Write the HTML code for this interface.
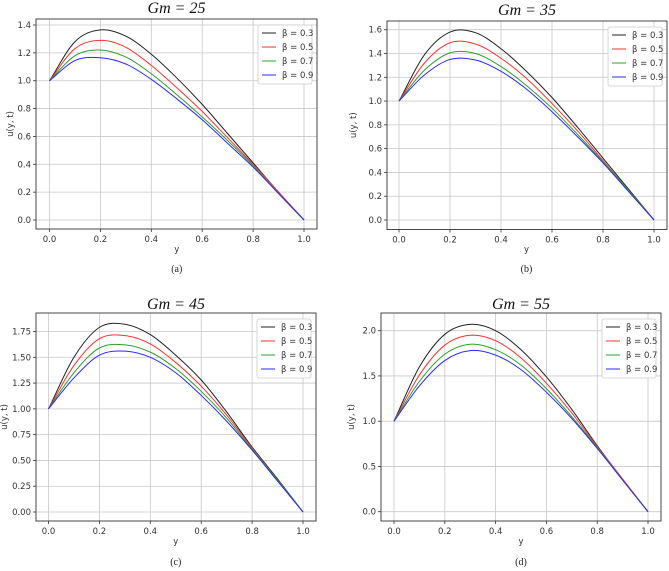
<!DOCTYPE html>
<html><head><meta charset="utf-8"><style>
html,body{margin:0;padding:0;background:#fff}
svg{display:block}
text{font-family:"DejaVu Sans","Liberation Sans",sans-serif}
</style></head>
<body>
<svg id="fig" width="669" height="571" viewBox="0 0 669 571" xmlns="http://www.w3.org/2000/svg"></svg>
<script>
const xs = [0,0.1,0.2,0.3,0.4,0.5,0.6,0.7,0.8,0.9,1];
const betaLabels = ["β = 0.3","β = 0.5","β = 0.7","β = 0.9"];
const seriesColors = ["#222","#ff3030","#2ca02c","#2a2aff"];
const xTicks = [0,0.2,0.4,0.6,0.8,1.0];
const xTickLabels = ["0.0","0.2","0.4","0.6","0.8","1.0"];
const titles = ["Gm = 25","Gm = 35","Gm = 45","Gm = 55"];
const captions = ["(a)","(b)","(c)","(d)"];
const yTicksA = [0,0.2,0.4,0.6,0.8,1.0,1.2,1.4];
const yTickLabelsA = ["0.0","0.2","0.4","0.6","0.8","1.0","1.2","1.4"];
const yTicksB = [0,0.2,0.4,0.6,0.8,1.0,1.2,1.4,1.6];
const yTickLabelsB = ["0.0","0.2","0.4","0.6","0.8","1.0","1.2","1.4","1.6"];
const yTicksC = [0,0.25,0.5,0.75,1.0,1.25,1.5,1.75];
const yTickLabelsC = ["0.00","0.25","0.50","0.75","1.00","1.25","1.50","1.75"];
const yTicksD = [0,0.5,1.0,1.5,2.0];
const yTickLabelsD = ["0.0","0.5","1.0","1.5","2.0"];
const dataA = [
 [1,1.28,1.365,1.32,1.19,1.02,0.83,0.62,0.41,0.20,0],
 [1,1.23,1.29,1.24,1.11,0.95,0.78,0.59,0.40,0.20,0],
 [1,1.18,1.22,1.17,1.05,0.90,0.74,0.57,0.39,0.19,0],
 [1,1.145,1.165,1.12,1.01,0.87,0.72,0.55,0.38,0.19,0]];
const dataB = [
 [1,1.39,1.58,1.575,1.44,1.25,1.03,0.78,0.52,0.26,0],
 [1,1.32,1.49,1.48,1.36,1.19,0.98,0.75,0.50,0.25,0],
 [1,1.26,1.405,1.40,1.29,1.13,0.94,0.72,0.49,0.25,0],
 [1,1.22,1.35,1.345,1.25,1.10,0.91,0.70,0.48,0.24,0]];
const dataC = [
 [1,1.50,1.79,1.82,1.72,1.52,1.28,0.97,0.63,0.32,0],
 [1,1.42,1.68,1.71,1.63,1.45,1.22,0.94,0.62,0.31,0],
 [1,1.35,1.59,1.62,1.55,1.39,1.17,0.91,0.61,0.31,0],
 [1,1.30,1.52,1.56,1.50,1.35,1.13,0.88,0.60,0.30,0]];
const dataD = [
 [1,1.60,1.96,2.07,2.00,1.79,1.49,1.13,0.73,0.36,0],
 [1,1.51,1.84,1.95,1.89,1.70,1.42,1.09,0.72,0.36,0],
 [1,1.44,1.74,1.85,1.79,1.62,1.36,1.05,0.71,0.35,0],
 [1,1.39,1.67,1.78,1.73,1.57,1.32,1.03,0.70,0.35,0]];

const NS="http://www.w3.org/2000/svg";
const fig=document.getElementById('fig');
function mk(tag,attrs,parent,txt){const e=document.createElementNS(NS,tag);for(const k in attrs)e.setAttribute(k,attrs[k]);if(txt!==undefined)e.textContent=txt;(parent||fig).appendChild(e);return e;}

const layouts=[
 {box:[36,19,317,229],x0:49.5,x1:304,y0p:220,yv:1.4,yvp:25,title:13,cap:272,ylab:13,xlab:252},
 {box:[387,21,667,229.5],x0:399,x1:654,y0p:220,yv:1.6,yvp:29.7,title:15,cap:272,ylab:356,xlab:252},
 {box:[36,313,316,521],x0:48.5,x1:303,y0p:512,yv:1.75,yvp:331.5,title:309,cap:565,ylab:7,xlab:544},
 {box:[381,313,661,521],x0:394,x1:648,y0p:511.7,yv:2.0,yvp:330.7,title:309,cap:565,ylab:354,xlab:544}];
const allTicks=[[yTicksA,yTickLabelsA],[yTicksB,yTickLabelsB],[yTicksC,yTickLabelsC],[yTicksD,yTickLabelsD]];
const allData=[dataA,dataB,dataC,dataD];

function pathFrom(pts){
  let d="M"+pts[0][0].toFixed(2)+","+pts[0][1].toFixed(2);
  for(let i=0;i<pts.length-1;i++){
    const p1=pts[i],p2=pts[i+1];
    const p0=pts[i-1]||[2*p1[0]-p2[0],2*p1[1]-p2[1]];
    const p3=pts[i+2]||[2*p2[0]-p1[0],2*p2[1]-p1[1]];
    const c1=[p1[0]+(p2[0]-p0[0])/6,p1[1]+(p2[1]-p0[1])/6];
    const c2=[p2[0]-(p3[0]-p1[0])/6,p2[1]-(p3[1]-p1[1])/6];
    d+=" C"+c1[0].toFixed(2)+","+c1[1].toFixed(2)+" "+c2[0].toFixed(2)+","+c2[1].toFixed(2)+" "+p2[0].toFixed(2)+","+p2[1].toFixed(2);
  }
  return d;
}

layouts.forEach((L,pi)=>{
  const g=mk('g',{});
  
  
  const X=v=>L.x0+(L.x1-L.x0)*v;
  const Y=v=>L.y0p-(L.y0p-L.yvp)*v/L.yv;
  const [bx0,by0,bx1,by1]=L.box;
  const t=mk('text',{x:(bx0+bx1)/2,y:L.title,'text-anchor':'middle','font-size':'16','font-style':'italic',style:'font-family:"Liberation Serif",serif',fill:'#111'},g,titles[pi]);
  
  
  xTicks.forEach((v,i)=>{
    mk('line',{x1:X(v),x2:X(v),y1:by0,y2:by1,stroke:'#c8c8c8','stroke-width':0.8},g);
    mk('line',{x1:X(v),x2:X(v),y1:by1,y2:by1+3,stroke:'#333','stroke-width':0.8},g);
    const tl=mk('text',{x:X(v),y:by1+13,'text-anchor':'middle','font-size':'8.5',fill:'#333'},g,xTickLabels[i]);
    
    
  });
  const [yt,ytl]=allTicks[pi];
  yt.forEach((v,i)=>{
    mk('line',{x1:bx0,x2:bx1,y1:Y(v),y2:Y(v),stroke:'#c8c8c8','stroke-width':0.8},g);
    mk('line',{x1:bx0-3,x2:bx0,y1:Y(v),y2:Y(v),stroke:'#333','stroke-width':0.8},g);
    const tl=mk('text',{x:bx0-5,y:Y(v)+3,'text-anchor':'end','font-size':'8.5',fill:'#333'},g,ytl[i]);
    
    
  });
  allData[pi].forEach((vals,si)=>{
    const pts=xs.map((x,k)=>[X(x),Y(vals[k])]);
    const p=mk('path',{d:pathFrom(pts),fill:'none',stroke:seriesColors[si],'stroke-width':1},g);
    
    
  });
  const fr=mk('rect',{x:bx0,y:by0,width:bx1-bx0,height:by1-by0,fill:'none',stroke:'#333','stroke-width':0.9},g);
  
  
  const lx=bx1-59,ly=by0+6;
  const lg=mk('g',{},g);
  
  
  mk('rect',{x:lx,y:ly,width:54,height:59,fill:'#fff',stroke:'#ccc','stroke-width':0.8,rx:2},lg);
  betaLabels.forEach((lab,si)=>{
    const yy=ly+8+si*14;
    mk('line',{x1:lx+4,x2:lx+18,y1:yy,y2:yy,stroke:seriesColors[si],'stroke-width':1},lg);
    const tx=mk('text',{x:lx+24,y:yy+3,'font-size':'8.5',fill:'#333'},lg,lab);
    
    
  });
  const yl=mk('text',{x:L.ylab,y:(by0+by1)/2,'text-anchor':'middle','font-size':'8.5',fill:'#333',transform:`rotate(-90 ${L.ylab} ${(by0+by1)/2})`},g,'u(y, t)');
  
  
  const xl=mk('text',{x:(L.x0+L.x1)/2,y:L.xlab,'text-anchor':'middle','font-size':'8.5',fill:'#333'},g,'y');
  
  
  const cp=mk('text',{x:(L.x0+L.x1)/2,y:L.cap,'text-anchor':'middle','font-size':'10',style:'font-family:"Liberation Serif",serif',fill:'#222'},g,captions[pi]);
  
  
});
</script>
</body></html>
